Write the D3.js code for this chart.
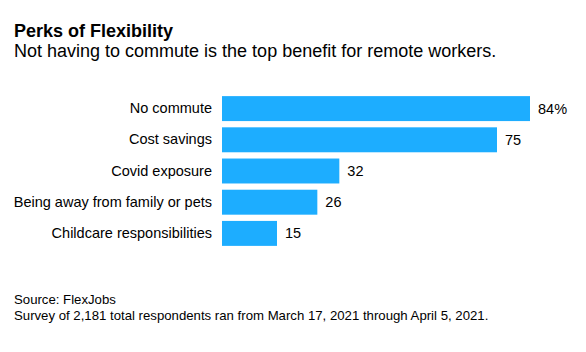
<!DOCTYPE html>
<html><head><meta charset="utf-8">
<script src="https://cdn.jsdelivr.net/npm/d3@7"></script>
<style>body{margin:0;background:#fff}svg{display:block}text{font-family:"Liberation Sans",Arial,sans-serif}</style>
</head><body><svg id="c" width="586" height="352"></svg>
<script>
const categories = ["No commute","Cost savings","Covid exposure","Being away from family or pets","Childcare responsibilities"];
const values = [84,75,32,26,15];
const valueLabels = ["84%","75","32","26","15"];
const title = "Perks of Flexibility";
const subtitle = "Not having to commute is the top benefit for remote workers.";
const notes = ["Source: FlexJobs","Survey of 2,181 total respondents ran from March 17, 2021 through April 5, 2021."];

const svg = d3.select("#c");
svg.append("rect").attr("width",586).attr("height",352).attr("fill","#fff");
svg.append("text").attr("x",14).attr("y",37).attr("font-size",18).attr("font-weight","bold").attr("fill","#000").text(title);
svg.append("text").attr("x",14).attr("y",57).attr("font-size",18).attr("fill","#000").text(subtitle);

const x = d3.scaleLinear().domain([0,84]).range([222,530]);
const y = d3.scaleBand().domain(categories).range([93,249]).paddingInner(0.2).paddingOuter(0.1);

svg.selectAll("rect.bar").data(values).join("rect").attr("class","bar")
  .attr("x",x(0)).attr("y",(d,i)=>y(categories[i])).attr("width",d=>x(d)-x(0)).attr("height",y.bandwidth())
  .attr("fill","#1dadff");

const yAxis = d3.axisLeft(y).tickSize(0).tickPadding(10);
const g = svg.append("g").attr("transform",`translate(${x(0)},0)`).call(yAxis);
g.select(".domain").remove();
g.selectAll("text").attr("font-size",14.5).attr("fill","#000").attr("font-family","Liberation Sans, Arial, sans-serif");

svg.selectAll("text.val").data(values).join("text").attr("class","val")
  .attr("x",d=>x(d)+8).attr("y",(d,i)=>y(categories[i])+y.bandwidth()/2).attr("dy","0.35em")
  .attr("font-size",14.5).attr("fill","#000").text((d,i)=>valueLabels[i]);

svg.selectAll("text.note").data(notes).join("text").attr("class","note")
  .attr("x",14).attr("y",(d,i)=>304+i*16).attr("font-size",13.2).attr("fill","#000").text(d=>d);
</script></body></html>
